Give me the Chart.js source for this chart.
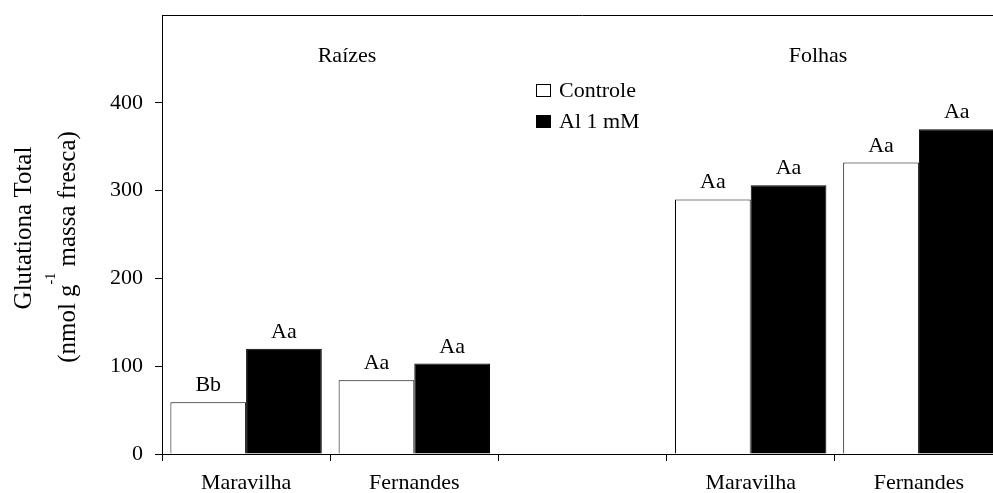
<!DOCTYPE html>
<html>
<head>
<meta charset="utf-8">
<script src="https://cdn.jsdelivr.net/npm/chart.js@4"></script>
<style>
    html, body { margin: 0; padding: 0; background: #fff; overflow: hidden; }
    #wrap { width: 1010px; height: 493px; }
</style>
</head>
<body>
<div id="wrap"><canvas id="chart" width="1010" height="493"></canvas></div>
<script>
const categories = ['Maravilha', 'Fernandes', '', 'Maravilha', 'Fernandes'];
const controle = [59, 84, null, 290, 332];
const al1mM = [120, 103, null, 306, 370];
const controleLetters = ['Bb', 'Aa', '', 'Aa', 'Aa'];
const alLetters = ['Aa', 'Aa', '', 'Aa', 'Aa'];
const groupNames = ['Raízes', 'Folhas'];
const groupAt = [0.6, 3.4];   // position in category units
const yMax = 500;
const yStep = 100;

const serif = '"Liberation Serif", "Times New Roman", serif';

// letters over the bars, group names, legend, axis title, top frame line
const extras = {
    id: 'extras',
    afterDatasetsDraw(chart) {
        const ctx = chart.ctx;
        const area = chart.chartArea;
        const x = chart.scales.x;
        const y = chart.scales.y;
        ctx.save();
        ctx.fillStyle = '#000';
        ctx.strokeStyle = '#000';
        ctx.lineWidth = 1;

        // top frame
        ctx.beginPath();
        ctx.moveTo(area.left, area.top + 0.5);
        ctx.lineTo(area.right, area.top + 0.5);
        ctx.stroke();

        // significance letters
        ctx.font = '22px ' + serif;
        ctx.textAlign = 'center';
        ctx.textBaseline = 'alphabetic';
        [controleLetters, alLetters].forEach((letters, di) => {
            chart.getDatasetMeta(di).data.forEach((bar, i) => {
                if (!letters[i]) return;
                ctx.fillText(letters[i], bar.x, bar.y - 11);
            });
        });

        // group names
        groupNames.forEach((g, i) => {
            ctx.fillText(g, x.getPixelForValue(groupAt[i]), y.getPixelForValue(446));
        });

        // legend
        ctx.textAlign = 'left';
        const lx = area.left + 374;
        chart.data.datasets.forEach((ds, i) => {
            const ty = area.top + 82 + i * 31;
            ctx.fillStyle = ds.backgroundColor;
            ctx.fillRect(lx + 0.5, ty - 12.5, 14, 12);
            ctx.strokeRect(lx + 0.5, ty - 12.5, 14, 12);
            ctx.fillStyle = '#000';
            ctx.fillText(ds.label, lx + 23, ty);
        });

        // y axis title (two lines, second with superscript)
        ctx.font = '25px ' + serif;
        ctx.save();
        ctx.translate(31, 228);
        ctx.rotate(-Math.PI / 2);
        ctx.textAlign = 'center';
        ctx.fillText('Glutationa Total', 0, 0);
        ctx.restore();

        const p1 = '(nmol g', sup = '-1', p2 = ' massa fresca)';
        const w1 = ctx.measureText(p1).width;
        const w2 = ctx.measureText(p2).width;
        ctx.font = '14px ' + serif;
        const ws = ctx.measureText(sup).width;
        ctx.save();
        ctx.translate(75, 247);
        ctx.rotate(-Math.PI / 2);
        ctx.textAlign = 'left';
        let start = -(w1 + ws + w2) / 2;
        ctx.font = '25px ' + serif;
        ctx.fillText(p1, start, 0);
        ctx.font = '14px ' + serif;
        ctx.fillText(sup, start + w1, -20);
        ctx.font = '25px ' + serif;
        ctx.fillText(p2, start + w1 + ws, 0);
        ctx.restore();

        ctx.restore();
    }
};

new Chart(document.getElementById('chart'), {
    type: 'bar',
    data: {
        labels: categories,
        datasets: [
            {
                label: 'Controle',
                data: controle,
                backgroundColor: '#ffffff',
                borderColor: '#000000',
                borderWidth: 1,
            },
            {
                label: 'Al 1 mM',
                data: al1mM,
                backgroundColor: '#000000',
                borderColor: '#000000',
                borderWidth: 1,
            }
        ]
    },
    options: {
        responsive: false,
        animation: false,
        categoryPercentage: 0.9,
        barPercentage: 1.0,
        layout: { padding: { top: 15, right: 7, left: 0, bottom: 0 } },
        plugins: {
            legend: { display: false },
            tooltip: { enabled: false }
        },
        scales: {
            x: {
                afterFit: (s) => { s.height = 39; s.paddingLeft = 0; s.paddingRight = 0; },
                grid: {
                    offset: true,
                    drawOnChartArea: false,
                    tickLength: 7,
                    color: '#000'
                },
                border: { color: '#000', width: 1 },
                ticks: {
                    color: '#000',
                    padding: 9,
                    font: { family: serif, size: 22 }
                }
            },
            y: {
                min: 0,
                max: yMax,
                afterFit: (s) => { s.width = 162; s.paddingTop = 0; s.paddingBottom = 0; },
                grid: {
                    drawOnChartArea: false,
                    tickLength: 7,
                    color: (c) => (c.tick && c.tick.value === yMax) ? 'rgba(0,0,0,0)' : '#000'
                },
                border: { color: '#000', width: 1 },
                ticks: {
                    stepSize: yStep,
                    color: '#000',
                    padding: 12,
                    font: { family: serif, size: 22 },
                    callback: (v) => v === yMax ? '' : v
                }
            }
        }
    },
    plugins: [extras]
});
</script>
</body>
</html>
